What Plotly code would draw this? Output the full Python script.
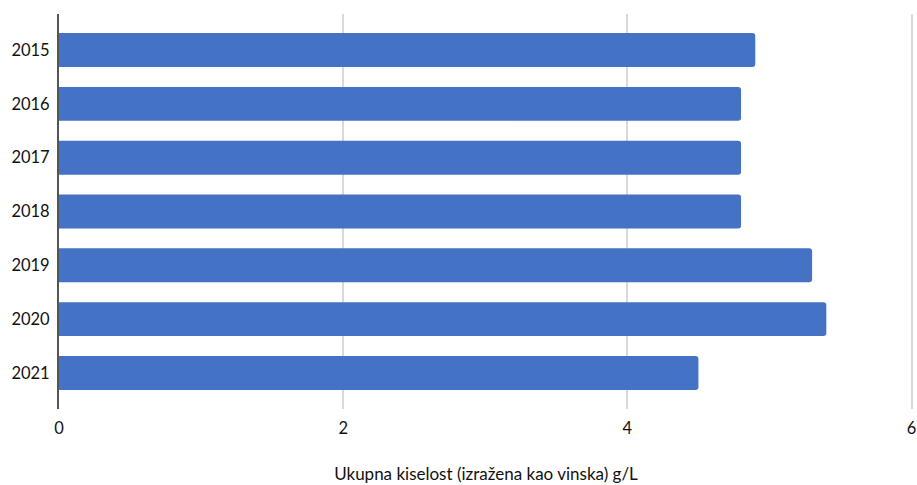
import plotly.graph_objects as go

years = ["2015", "2016", "2017", "2018", "2019", "2020", "2021"]
acidity = [4.9, 4.8, 4.8, 4.8, 5.3, 5.4, 4.5]
x_ticks = [0, 2, 4, 6]
x_title = "Ukupna kiselost (izražena kao vinska) g/L"

fig = go.Figure(go.Bar(
    x=acidity, y=years, orientation="h",
    marker=dict(color="#4472C4", cornerradius=3, line=dict(width=0)),
    hoverinfo="x+y",
))

fig.update_layout(
    width=917, height=485,
    margin=dict(l=58.5, r=4, t=14, b=76, autoexpand=False),
    paper_bgcolor="white", plot_bgcolor="white",
    bargap=0.37,
    showlegend=False,
    font=dict(family="Lato, Carlito, sans-serif", size=16.5, color="#111"),
)
fig.update_xaxes(
    range=[0, 6.01], tickvals=x_ticks, ticktext=[str(v) for v in x_ticks],
    showgrid=True, gridcolor="#d9d9d9", gridwidth=2,
    zeroline=False, showline=False, ticks="", ticklen=0,
    ticklabelstandoff=7,
    automargin=False,
    title=dict(text=x_title, font=dict(size=17, color="#111"), standoff=31),
    tickfont=dict(size=16.5, color="#111"),
)
fig.update_yaxes(
    type="category", categoryorder="array", categoryarray=years,
    range=[6.67, -0.67],
    showgrid=False, zeroline=False,
    showline=True, linecolor="#555", linewidth=2,
    ticks="", ticklabelstandoff=4,
    automargin=False,
    tickfont=dict(size=16.5, color="#111"),
)

fig.write_html(
    "out.html",
    config={"displayModeBar": False},
    post_script="document.body.style.margin='0';"
                "document.documentElement.style.overflow='hidden';",
)
